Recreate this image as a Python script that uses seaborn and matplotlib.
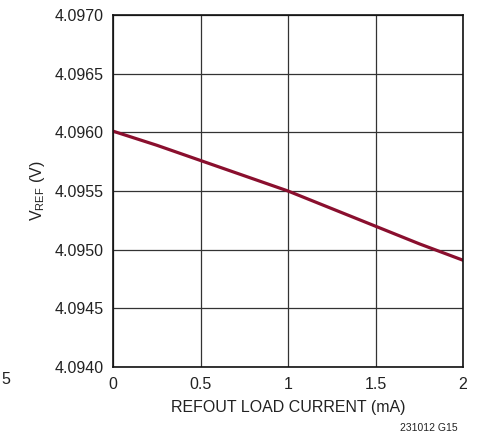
import matplotlib
matplotlib.use('Agg')
import matplotlib.pyplot as plt
import seaborn as sns
import pandas as pd

# valori
load_current = [0, 0.25, 0.5, 0.75, 1.0, 1.25, 1.5, 1.75, 2.0]
vref = [4.09601, 4.09589, 4.09576, 4.09563, 4.09550, 4.09535, 4.09520, 4.09505, 4.09491]
x_ticks = [0, 0.5, 1, 1.5, 2]
x_labels = ['0', '0.5', '1', '1.5', '2']
y_ticks = [4.0940, 4.0945, 4.0950, 4.0955, 4.0960, 4.0965, 4.0970]

sns.set_style('white')
plt.rcParams['font.family'] = ['Liberation Sans', 'DejaVu Sans']

df = pd.DataFrame({'I': load_current, 'V': vref})

fig = plt.figure(figsize=(4.8, 4.4), dpi=100)
ax = fig.add_axes([113 / 480, 1 - 367 / 440, 350 / 480, 352 / 440])
sns.lineplot(data=df, x='I', y='V', ax=ax, color='#8a0f2e', linewidth=2.3)

ax.set_xlim(0, 2)
ax.set_ylim(4.0940, 4.0970)
ax.set_xticks(x_ticks)
ax.set_xticklabels(x_labels)
ax.set_yticks(y_ticks)
ax.set_yticklabels([f'{v:.4f}' for v in y_ticks])
ax.tick_params(length=0, labelsize=11.5, colors='#222222', pad=7)
ax.grid(True, color='#333333', linewidth=0.9)
for s in ax.spines.values():
    s.set_color('#111111')
    s.set_linewidth(1.2)

ax.set_xlabel('REFOUT LOAD CURRENT (mA)', fontsize=11.5, color='#222222', labelpad=6)
ax.set_ylabel(r'V$_\mathregular{REF}$ (V)', fontsize=11.5, color='#222222', labelpad=5)

fig.text(458 / 480, 1 - 428 / 440, '231012 G15', fontsize=7.5, ha='right', va='center', color='#222222')
# resto di un'etichetta del grafico vicino
fig.text(1 / 480, 1 - 379 / 440, '5', fontsize=11.5, ha='left', va='center', color='#222222')

fig.savefig('out.png', dpi=100)
